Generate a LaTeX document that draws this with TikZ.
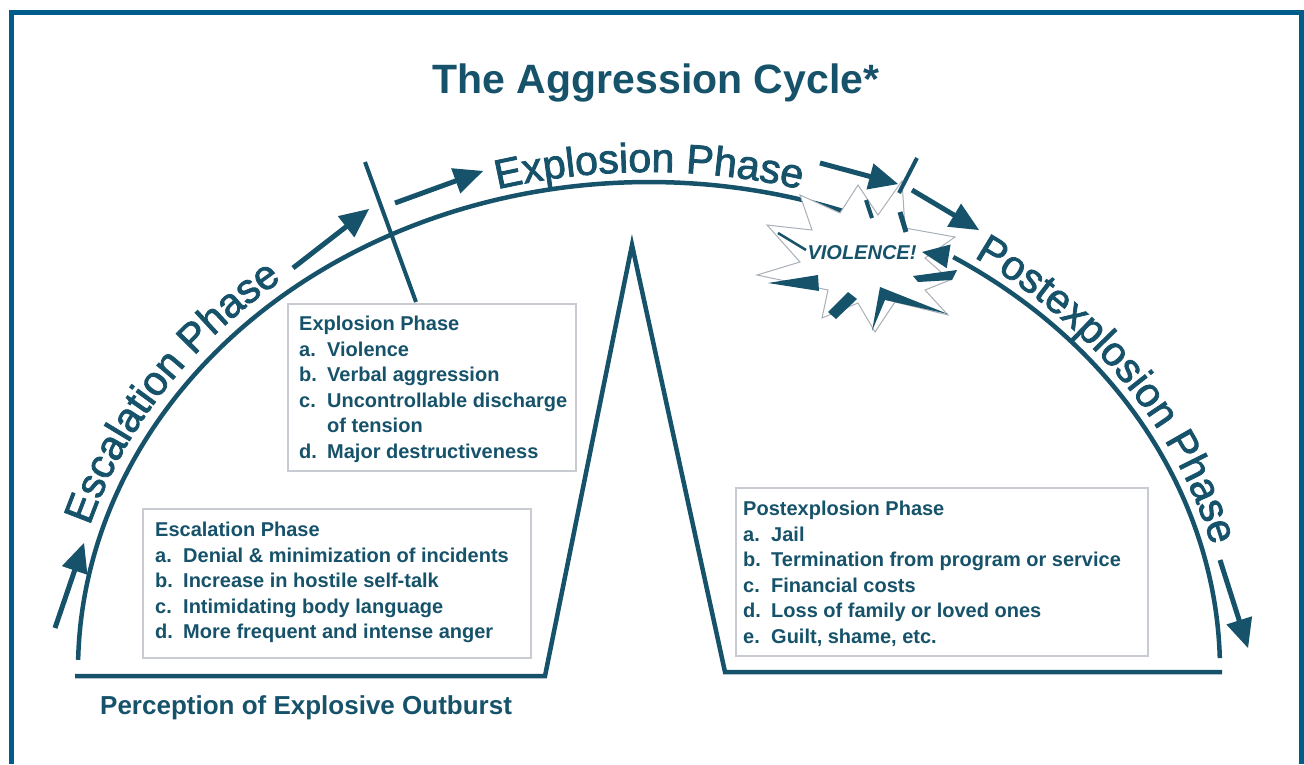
\documentclass[tikz,border=0pt]{standalone}
\usepackage{fontspec}
\setmainfont{Liberation Sans}
\newfontfamily\arcfam[FakeBold=2]{Liberation Sans}
\usetikzlibrary{calc,decorations.text}
\definecolor{ink}{RGB}{22,82,106}
\definecolor{framec}{RGB}{0,92,138}
\definecolor{boxline}{RGB}{200,204,210}
\definecolor{starline}{RGB}{170,176,184}
\newcommand\arclabelfont{\arcfam\fontsize{41}{41}\selectfont}
\newcommand\itemlab[1]{\makebox[1.4em][l]{#1}}
% thick arrow with a big filled triangular head, from #1 to #2 (named coordinates)
\newcommand\bigarrow[2]{%
  \draw[ink, line width=5pt] (#1) -- ($(#2)!26pt!(#1)$);
  \fill[ink] (#2) -- ($(#2)!29pt!(#1)!13.5pt!90:(#2)$) -- ($(#2)!29pt!(#1)!13.5pt!-90:(#2)$) -- cycle;}
\begin{document}
\begin{tikzpicture}[x=1pt,y=-1pt,
  mainline/.style={draw=ink, line width=4.5pt},
  tickline/.style={draw=ink, line width=4pt},
  boxframe/.style={draw=boxline, line width=1.5pt, fill=white, inner sep=0pt, anchor=north west},
  boxtext/.style={text=ink, font={\bfseries\fontsize{20}{25.5}\selectfont}, align=left, inner sep=0pt, anchor=north west},
  arctext/.style={decorate, decoration={text along path, text align=center, text color=ink}},
  wedge/.style={fill=ink, draw=none}
]
\useasboundingbox (0,0) rectangle (1304,764);
% frame
\draw[framec, line width=5pt] (11.5,764) -- (11.5,12.5) -- (1301.5,12.5) -- (1301.5,764);

% title
\node[text=ink, font={\bfseries\fontsize{41}{41}\selectfont}, anchor=base] (title) at (656,93) {The Aggression Cycle*};

% main arc (left part)
\draw[mainline] (649,670) ++(181.2:571 and 488) arc[start angle=181.2, end angle=289.9, x radius=571, y radius=488];

% baseline with peak
\draw[mainline, line join=miter] (75,676) -- (545,676) -- (632,245) -- (725,672) -- (1222,672);

% arc labels
\path[arctext, decoration={text={|\arclabelfont|Escalation Phase}}]
  (649,670) ++(188.5:584 and 501) arc[start angle=188.5, end angle=238.5, x radius=584, y radius=501];
\path[arctext, decoration={text={|\arclabelfont|Explosion Phase}}]
  (649,670) ++(245:581 and 498) arc[start angle=245, end angle=295, x radius=581, y radius=498];
\path[arctext, decoration={text={|\arclabelfont|Postexplosion Phase}}]
  (649,670) ++(300:581 and 498) arc[start angle=300, end angle=350, x radius=581, y radius=498];

% starburst
\draw[starline, line width=1pt, fill=white, line join=miter]
  (858,185) -- (878,215) -- (902,181) -- (905,228) -- (955,237) -- (925,258)
  -- (950,280) -- (925,290) -- (948,315) -- (895,302) -- (875,332) -- (858,303)
  -- (822,318) -- (828,290) -- (757,275) -- (800,262) -- (767,225) -- (812,230)
  -- (800,195) -- (840,213) -- cycle;
\fill[wedge] (768,283) -- (818,275) -- (819,291) -- cycle;
\fill[wedge] (828,312) -- (848,292) -- (857,299) -- (836,319) -- cycle;
\fill[wedge] (872,331) -- (880,287) -- (948,314) -- (885,300) -- cycle;
\fill[wedge] (913,276) -- (957,270) -- (952,280) -- (918,282) -- cycle;
\draw[ink, line width=2.5pt] (778,233) -- (806,250);
\draw[ink, line width=4pt] (866,200) -- (872,218);
\draw[ink, line width=5pt] (900,212) -- (906,232);
\node[text=ink, font={\bfseries\itshape\fontsize{20}{20}\selectfont}] (violence) at (862,253) {VIOLENCE!};

% right arc with arrow into the starburst
\coordinate (vtip) at (922,252);
\draw[mainline] (649,670) ++(358.6:571 and 488) arc[start angle=358.6, end angle=302.2, x radius=571, y radius=488] coordinate (varcend);
\fill[ink] (vtip) -- ($(vtip)!27pt!(varcend)!12pt!90:(vtip)$) -- ($(vtip)!27pt!(varcend)!12pt!-90:(vtip)$) -- cycle;

% ticks
\coordinate (t1a) at (365,162); \coordinate (t1b) at (416,302);
\draw[tickline] (t1a) -- (t1b);
\coordinate (t2a) at (917,158); \coordinate (t2b) at (899,193);
\draw[tickline] (t2a) -- (t2b);

% arrows
\coordinate (a1s) at (55,628); \coordinate (a1e) at (84,543);
\coordinate (a2s) at (293,268); \coordinate (a2e) at (369,209);
\coordinate (a3s) at (395,203); \coordinate (a3e) at (483,171);
\coordinate (a4s) at (820,163); \coordinate (a4e) at (898,184);
\coordinate (a5s) at (912,190); \coordinate (a5e) at (979,230);
\coordinate (a7s) at (1220,560); \coordinate (a7e) at (1248,648);
\bigarrow{a1s}{a1e}
\bigarrow{a2s}{a2e}
\bigarrow{a3s}{a3e}
\bigarrow{a4s}{a4e}
\bigarrow{a5s}{a5e}
\bigarrow{a7s}{a7e}

% boxes
\node[boxframe, minimum width=288pt, minimum height=167pt] (expbox) at (287,303) {};
\node[boxtext] (exptext) at (299,316) {Explosion Phase\\
\itemlab{a.}Violence\\
\itemlab{b.}Verbal aggression\\
\itemlab{c.}Uncontrollable discharge\\
\itemlab{}of tension\\
\itemlab{d.}Major destructiveness};

\node[boxframe, minimum width=388pt, minimum height=149pt] (escbox) at (142,508) {};
\node[boxtext] (esctext) at (155,522) {Escalation Phase\\
\itemlab{a.}Denial \& minimization of incidents\\
\itemlab{b.}Increase in hostile self-talk\\
\itemlab{c.}Intimidating body language\\
\itemlab{d.}More frequent and intense anger};

\node[boxframe, minimum width=412pt, minimum height=168pt] (postbox) at (735,487) {};
\node[boxtext] (posttext) at (743,501) {Postexplosion Phase\\
\itemlab{a.}Jail\\
\itemlab{b.}Termination from program or service\\
\itemlab{c.}Financial costs\\
\itemlab{d.}Loss of family or loved ones\\
\itemlab{e.}Guilt, shame, etc.};

% bottom label
\node[text=ink, font={\bfseries\fontsize{26}{26}\selectfont}, anchor=base west, inner sep=0pt] (percep) at (100,714) {Perception of Explosive Outburst};
\end{tikzpicture}
\end{document}
